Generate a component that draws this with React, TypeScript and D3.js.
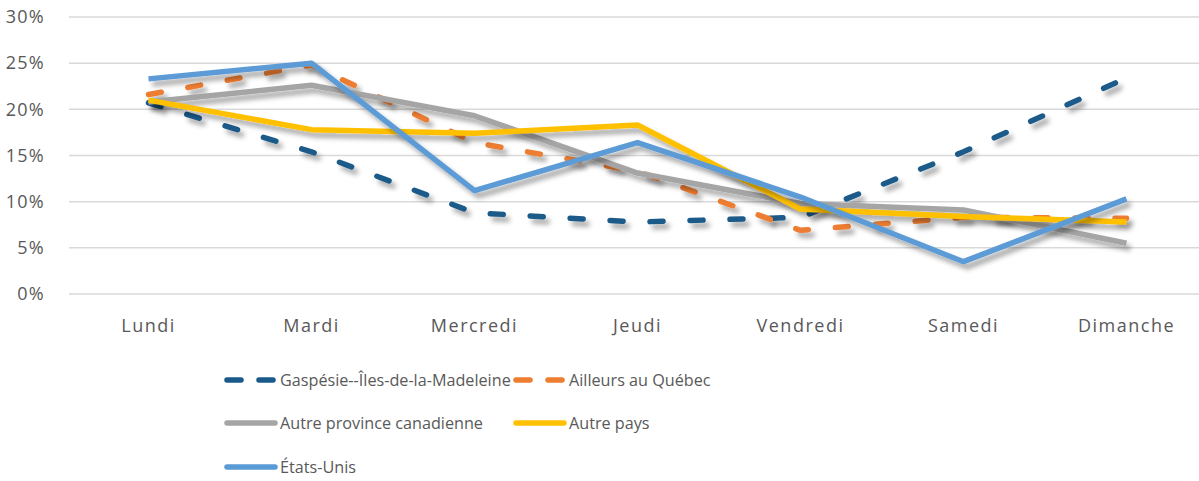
import React from 'react';
import * as d3 from 'd3';

const width = 1199;
const height = 481;
const margin = { top: 17, bottom: 187, left: 67, right: -9 };

const days = ['Lundi', 'Mardi', 'Mercredi', 'Jeudi', 'Vendredi', 'Samedi', 'Dimanche'];
const yTicks = [0, 0.05, 0.1, 0.15, 0.2, 0.25, 0.3];

const gaspesie = [0.207, 0.154, 0.088, 0.078, 0.083, 0.154, 0.234];
const ailleursQc = [0.216, 0.248, 0.164, 0.133, 0.069, 0.083, 0.082];
const autreProvince = [0.208, 0.226, 0.193, 0.131, 0.098, 0.091, 0.055];
const autrePays = [0.21, 0.178, 0.174, 0.183, 0.092, 0.084, 0.078];
const etatsUnis = [0.233, 0.25, 0.112, 0.164, 0.105, 0.035, 0.103];

const series = [
  { name: 'Gaspésie--Îles-de-la-Madeleine', values: gaspesie, color: '#1a5a8a', dashed: true },
  { name: 'Ailleurs au Québec', values: ailleursQc, color: '#ed7d31', dashed: true },
  { name: 'Autre province canadienne', values: autreProvince, color: '#a5a5a5', dashed: false },
  { name: 'Autre pays', values: autrePays, color: '#ffc000', dashed: false },
  { name: 'États-Unis', values: etatsUnis, color: '#5b9bd5', dashed: false },
];

const legendPos = [
  { x: 225, y: 380 },
  { x: 514, y: 380 },
  { x: 225, y: 423 },
  { x: 514, y: 423 },
  { x: 225, y: 467 },
];

const font = "'Open Sans', 'Noto Sans', sans-serif";
const textColor = '#595959';

export default function App() {
  const x = d3.scalePoint<string>()
    .domain(days)
    .range([margin.left, width - margin.right])
    .padding(0.5);
  const y = d3.scaleLinear().domain([0, 0.3]).range([height - margin.bottom, margin.top]);
  const line = d3.line<number>()
    .x((_, i) => x(days[i]) as number)
    .y(d => y(d));

  return (
    <svg width={width} height={height} style={{ position: 'fixed', left: 0, top: 0, background: '#fff' }}>
      <defs>
        <filter id="shadow" x="-10%" y="-20%" width="130%" height="150%">
          <feDropShadow dx="4" dy="5" stdDeviation="2.6" floodColor="#000" floodOpacity="0.35" />
        </filter>
      </defs>
      {yTicks.map(t => (
        <g key={t}>
          <line x1={margin.left + 2} x2={width} y1={y(t)} y2={y(t)} stroke="#d9d9d9" strokeWidth={1.5} />
          <text x={45} y={y(t)} dy="0.35em" textAnchor="end" fontFamily={font} fontSize={18}
            letterSpacing={1.3} fill={textColor}>
            {d3.format('.0%')(t)}
          </text>
        </g>
      ))}
      {days.map(d => (
        <text key={d} x={x(d)} y={326} dy="0.35em" textAnchor="middle" fontFamily={font} fontSize={18}
          letterSpacing={1.5} fill={textColor}>
          {d}
        </text>
      ))}
      {series.map(s => (
        <path
          key={s.name}
          d={line(s.values) || ''}
          fill="none"
          stroke={s.color}
          strokeWidth={5.5}
          strokeDasharray={s.dashed ? '13 27' : undefined}
          strokeLinecap={s.dashed ? 'round' : 'butt'}
          strokeLinejoin="round"
          filter="url(#shadow)"
        />
      ))}
      {series.map((s, i) => {
        const p = legendPos[i];
        return (
          <g key={s.name} transform={`translate(${p.x},${p.y})`}>
            {s.dashed ? (
              <g>
                <line x1={2} x2={16} y1={0} y2={0} stroke={s.color} strokeWidth={5.5} strokeLinecap="round" />
                <line x1={34} x2={48} y1={0} y2={0} stroke={s.color} strokeWidth={5.5} strokeLinecap="round" />
              </g>
            ) : (
              <line x1={2} x2={50} y1={0} y2={0} stroke={s.color} strokeWidth={5.5} strokeLinecap="round" />
            )}
            <text x={55} y={0} dy="0.35em" fontFamily={font} fontSize={16.2} fill={textColor}>
              {s.name}
            </text>
          </g>
        );
      })}
    </svg>
  );
}
